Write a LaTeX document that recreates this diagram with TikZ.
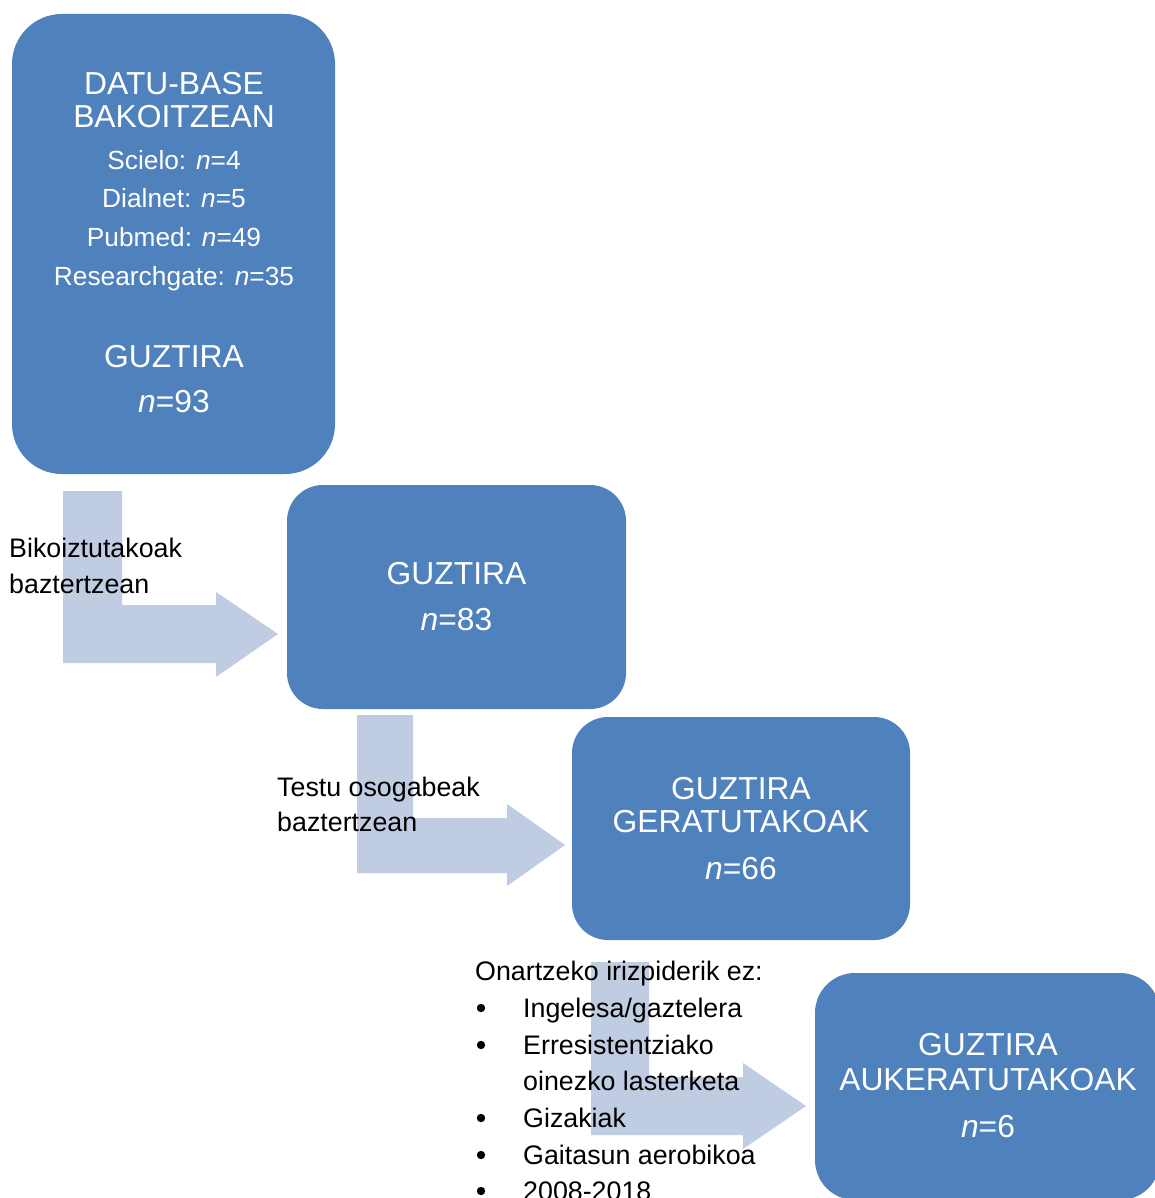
\documentclass[tikz,border=0pt]{standalone}
\usepackage{fontspec}
\setmainfont{Liberation Sans}
\definecolor{boxblue}{RGB}{79,129,189}
\definecolor{arrowblue}{RGB}{192,204,226}
\begin{document}
\begin{tikzpicture}[x=1pt,y=-1pt,
  flowbox/.style={draw=none,fill=boxblue,inner sep=0pt},
  bigtxt/.style={anchor=base,text=white,inner sep=0pt,font=\fontsize{31.8}{34}\selectfont},
  smalltxt/.style={anchor=base,text=white,inner sep=0pt,font=\fontsize{26.3}{30}\selectfont},
  lbl/.style={anchor=base west,text=black,inner sep=0pt,font=\fontsize{26.8}{30}\selectfont},
  bentarrow/.style={fill=arrowblue,draw=none}]
\useasboundingbox (0,0) rectangle (1154,1198);
\fill[white] (0,0) rectangle (1154,1198);

% bent arrows
\fill[bentarrow] (63,491) -- (122,491) -- (122,605) -- (216,605) -- (216,592) -- (278,634) -- (216,677) -- (216,663) -- (63,663) -- cycle;
\fill[bentarrow] (357,715) -- (413,715) -- (413,818) -- (507,818) -- (507,804) -- (565,845) -- (507,886) -- (507,873) -- (357,873) -- cycle;
\fill[bentarrow] (591,962) -- (649,962) -- (649,1077) -- (743,1077) -- (743,1063) -- (806,1106) -- (743,1149) -- (743,1135) -- (591,1135) -- cycle;

% boxes
\node[flowbox,minimum width=323pt,minimum height=460pt,rounded corners=50pt] (b1) at (173.5,244) {};
\node[flowbox,minimum width=339pt,minimum height=224pt,rounded corners=36pt] (b2) at (456.5,597) {};
\node[flowbox,minimum width=338pt,minimum height=223pt,rounded corners=36pt] (b3) at (741,828.5) {};
\node[flowbox,minimum width=345pt,minimum height=227pt,rounded corners=40pt] (b4) at (987.5,1086.5) {};

% box 1 text
\node[bigtxt] (t1a) at (174,95) {DATU-BASE};
\node[bigtxt] (t1b) at (174,128) {BAKOITZEAN};
\node[smalltxt] (t1c) at (174,170) {Scielo: \textit{n}=4};
\node[smalltxt] (t1d) at (174,208) {Dialnet: \textit{n}=5};
\node[smalltxt] (t1e) at (174,247) {Pubmed: \textit{n}=49};
\node[smalltxt] (t1f) at (174,285) {Researchgate: \textit{n}=35};
\node[bigtxt] (t1g) at (174,367) {GUZTIRA};
\node[bigtxt] (t1h) at (174,412) {\textit{n}=93};

% box 2 text
\node[bigtxt] (t2a) at (456.5,584) {GUZTIRA};
\node[bigtxt] (t2b) at (456.5,630) {\textit{n}=83};

% box 3 text
\node[bigtxt] (t3a) at (741,799) {GUZTIRA};
\node[bigtxt] (t3b) at (741,832) {GERATUTAKOAK};
\node[bigtxt] (t3c) at (741,879) {\textit{n}=66};

% box 4 text
\node[bigtxt] (t4a) at (988,1055) {GUZTIRA};
\node[bigtxt] (t4b) at (988,1090) {AUKERATUTAKOAK};
\node[bigtxt] (t4c) at (988,1137) {\textit{n}=6};

% labels
\node[lbl] (l1a) at (9,557) {Bikoiztutakoak};
\node[lbl] (l1b) at (9,593) {baztertzean};
\node[lbl] (l2a) at (277,796) {Testu osogabeak};
\node[lbl] (l2b) at (277,831) {baztertzean};
\node[lbl] (l3) at (475,980) {Onartzeko irizpiderik ez:};
\foreach \yy/\txt [count=\i] in {1017/Ingelesa\slash gaztelera,1054/Erresistentziako,1090/oinezko lasterketa,1127/Gizakiak,1164/Gaitasun aerobikoa,1200/2008-2018}{
  \node[lbl] (li\i) at (523,\yy) {\txt};
}
\foreach \yy [count=\i] in {1017,1054,1127,1164,1200}{
  \fill[black] (481,\yy-9) circle (4.2) coordinate (bul\i);
}
\end{tikzpicture}
\end{document}
